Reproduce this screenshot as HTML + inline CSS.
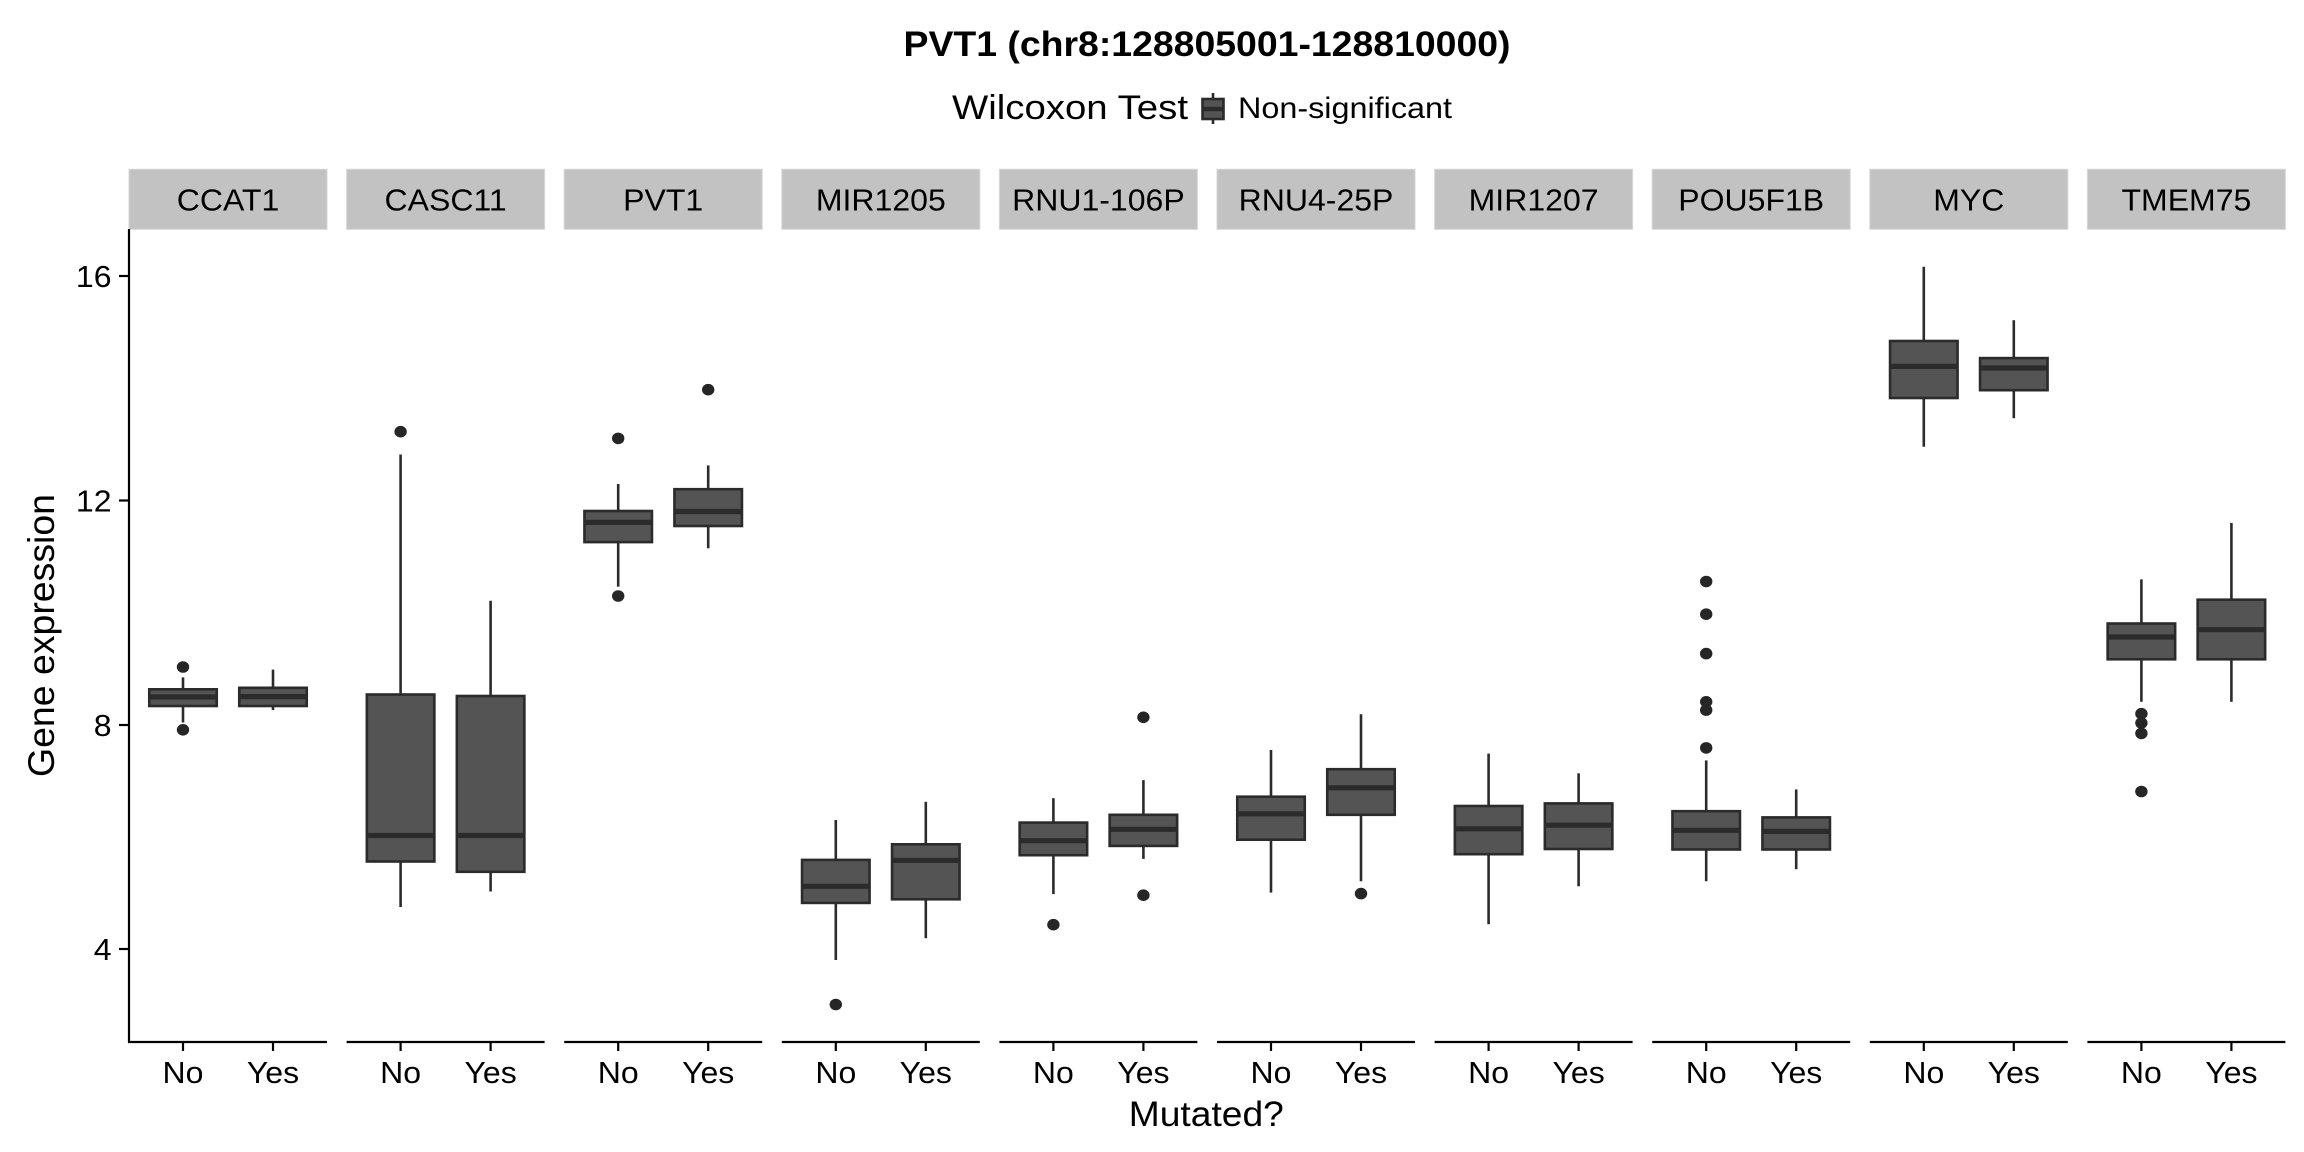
<!DOCTYPE html>
<html><head><meta charset="utf-8"><style>
html,body{margin:0;padding:0;background:#fff;}
svg{display:block;}
text{font-family:"Liberation Sans",Arial,sans-serif;fill:#000;}
.wh{stroke:#2b2b2b;stroke-width:2.6;}
.bx{fill:#545454;stroke:#2b2b2b;stroke-width:2.6;}
.md{stroke:#2b2b2b;stroke-width:5.2;}
.pt{fill:#262626;}
.ax{stroke:#000;stroke-width:2.2;}
.st{fill:#c2c2c2;stroke:#d6d6d6;stroke-width:1;}
.s{font-size:30.5px;}
</style></head><body>
<svg width="2304" height="1152" viewBox="0 0 2304 1152" xmlns="http://www.w3.org/2000/svg">
<rect width="2304" height="1152" fill="#fff"/>
<!-- title -->
<text x="1207" y="56" text-anchor="middle" font-size="35" font-weight="bold" textLength="607" lengthAdjust="spacingAndGlyphs">PVT1 (chr8:128805001-128810000)</text>
<!-- legend -->
<text x="952" y="119" font-size="34" textLength="236" lengthAdjust="spacingAndGlyphs">Wilcoxon Test</text>
<line x1="1213" y1="93" x2="1213" y2="124" class="wh"/>
<rect x="1202.5" y="99" width="21" height="20" class="bx"/>
<line x1="1202.5" y1="109" x2="1223.5" y2="109" class="md" style="stroke-width:4.5"/>
<text x="1238" y="118" font-size="30" textLength="214" lengthAdjust="spacingAndGlyphs">Non-significant</text>

<!-- strips -->
<g>
<rect x="129" y="169.3" width="198" height="60" class="st"/>
<rect x="346.6" y="169.3" width="198" height="60" class="st"/>
<rect x="564.2" y="169.3" width="198" height="60" class="st"/>
<rect x="781.8" y="169.3" width="198" height="60" class="st"/>
<rect x="999.4" y="169.3" width="198" height="60" class="st"/>
<rect x="1217" y="169.3" width="198" height="60" class="st"/>
<rect x="1434.6" y="169.3" width="198" height="60" class="st"/>
<rect x="1652.2" y="169.3" width="198" height="60" class="st"/>
<rect x="1869.8" y="169.3" width="198" height="60" class="st"/>
<rect x="2087.4" y="169.3" width="198" height="60" class="st"/>
</g>
<g class="s" text-anchor="middle">
<text transform="translate(228,210.5) scale(1.05,1)">CCAT1</text>
<text transform="translate(445.6,210.5) scale(1.05,1)">CASC11</text>
<text transform="translate(663.2,210.5) scale(1.05,1)">PVT1</text>
<text transform="translate(880.8,210.5) scale(1.05,1)">MIR1205</text>
<text transform="translate(1098.4,210.5) scale(1.05,1)">RNU1-106P</text>
<text transform="translate(1316,210.5) scale(1.05,1)">RNU4-25P</text>
<text transform="translate(1533.6,210.5) scale(1.05,1)">MIR1207</text>
<text transform="translate(1751.2,210.5) scale(1.05,1)">POU5F1B</text>
<text transform="translate(1968.8,210.5) scale(1.05,1)">MYC</text>
<text transform="translate(2186.4,210.5) scale(1.05,1)">TMEM75</text>
</g>

<!-- y axis -->
<line x1="129" y1="229" x2="129" y2="1043" class="ax"/>
<line x1="119" y1="276" x2="129" y2="276" class="ax"/>
<line x1="119" y1="500.5" x2="129" y2="500.5" class="ax"/>
<line x1="119" y1="725" x2="129" y2="725" class="ax"/>
<line x1="119" y1="949" x2="129" y2="949" class="ax"/>
<g class="s" text-anchor="end">
<text transform="translate(111.5,287) scale(1.05,1)">16</text>
<text transform="translate(111.5,511.5) scale(1.05,1)">12</text>
<text transform="translate(111.5,736) scale(1.05,1)">8</text>
<text transform="translate(111.5,960) scale(1.05,1)">4</text>
</g>
<text transform="translate(54,635.5) rotate(-90)" text-anchor="middle" font-size="37" textLength="283" lengthAdjust="spacingAndGlyphs">Gene expression</text>

<!-- x axes -->
<g>
<line x1="128" y1="1042" x2="327" y2="1042" class="ax"/>
<line x1="346.6" y1="1042" x2="544.6" y2="1042" class="ax"/>
<line x1="564.2" y1="1042" x2="762.2" y2="1042" class="ax"/>
<line x1="781.8" y1="1042" x2="979.8" y2="1042" class="ax"/>
<line x1="999.4" y1="1042" x2="1197.4" y2="1042" class="ax"/>
<line x1="1217" y1="1042" x2="1415" y2="1042" class="ax"/>
<line x1="1434.6" y1="1042" x2="1632.6" y2="1042" class="ax"/>
<line x1="1652.2" y1="1042" x2="1850.2" y2="1042" class="ax"/>
<line x1="1869.8" y1="1042" x2="2067.8" y2="1042" class="ax"/>
<line x1="2087.4" y1="1042" x2="2285.4" y2="1042" class="ax"/>
</g>
<g class="ax">
<line x1="183" y1="1042" x2="183" y2="1051"/><line x1="273" y1="1042" x2="273" y2="1051"/>
<line x1="400.6" y1="1042" x2="400.6" y2="1051"/><line x1="490.6" y1="1042" x2="490.6" y2="1051"/>
<line x1="618.2" y1="1042" x2="618.2" y2="1051"/><line x1="708.2" y1="1042" x2="708.2" y2="1051"/>
<line x1="835.8" y1="1042" x2="835.8" y2="1051"/><line x1="925.8" y1="1042" x2="925.8" y2="1051"/>
<line x1="1053.4" y1="1042" x2="1053.4" y2="1051"/><line x1="1143.4" y1="1042" x2="1143.4" y2="1051"/>
<line x1="1271" y1="1042" x2="1271" y2="1051"/><line x1="1361" y1="1042" x2="1361" y2="1051"/>
<line x1="1488.6" y1="1042" x2="1488.6" y2="1051"/><line x1="1578.6" y1="1042" x2="1578.6" y2="1051"/>
<line x1="1706.2" y1="1042" x2="1706.2" y2="1051"/><line x1="1796.2" y1="1042" x2="1796.2" y2="1051"/>
<line x1="1923.8" y1="1042" x2="1923.8" y2="1051"/><line x1="2013.8" y1="1042" x2="2013.8" y2="1051"/>
<line x1="2141.4" y1="1042" x2="2141.4" y2="1051"/><line x1="2231.4" y1="1042" x2="2231.4" y2="1051"/>
</g>
<g class="s" text-anchor="middle">
<text transform="translate(183,1083) scale(1.05,1)">No</text><text transform="translate(273,1083) scale(1.05,1)">Yes</text>
<text transform="translate(400.6,1083) scale(1.05,1)">No</text><text transform="translate(490.6,1083) scale(1.05,1)">Yes</text>
<text transform="translate(618.2,1083) scale(1.05,1)">No</text><text transform="translate(708.2,1083) scale(1.05,1)">Yes</text>
<text transform="translate(835.8,1083) scale(1.05,1)">No</text><text transform="translate(925.8,1083) scale(1.05,1)">Yes</text>
<text transform="translate(1053.4,1083) scale(1.05,1)">No</text><text transform="translate(1143.4,1083) scale(1.05,1)">Yes</text>
<text transform="translate(1271,1083) scale(1.05,1)">No</text><text transform="translate(1361,1083) scale(1.05,1)">Yes</text>
<text transform="translate(1488.6,1083) scale(1.05,1)">No</text><text transform="translate(1578.6,1083) scale(1.05,1)">Yes</text>
<text transform="translate(1706.2,1083) scale(1.05,1)">No</text><text transform="translate(1796.2,1083) scale(1.05,1)">Yes</text>
<text transform="translate(1923.8,1083) scale(1.05,1)">No</text><text transform="translate(2013.8,1083) scale(1.05,1)">Yes</text>
<text transform="translate(2141.4,1083) scale(1.05,1)">No</text><text transform="translate(2231.4,1083) scale(1.05,1)">Yes</text>
</g>
<text x="1206.3" y="1126" text-anchor="middle" font-size="35" textLength="155" lengthAdjust="spacingAndGlyphs">Mutated?</text>

<!-- whiskers -->
<g class="wh">
<line x1="183" y1="677.4" x2="183" y2="689.3"/><line x1="183" y1="706" x2="183" y2="722.5"/>
<line x1="273" y1="669.6" x2="273" y2="687.8"/><line x1="273" y1="706" x2="273" y2="710"/>
<line x1="400.6" y1="454.5" x2="400.6" y2="694.5"/><line x1="400.6" y1="861.5" x2="400.6" y2="907"/>
<line x1="490.6" y1="600.7" x2="490.6" y2="696"/><line x1="490.6" y1="871.8" x2="490.6" y2="891.5"/>
<line x1="618.2" y1="484" x2="618.2" y2="511"/><line x1="618.2" y1="542.1" x2="618.2" y2="586.7"/>
<line x1="708.2" y1="465.4" x2="708.2" y2="489.2"/><line x1="708.2" y1="526" x2="708.2" y2="548.3"/>
<line x1="835.8" y1="820" x2="835.8" y2="859.9"/><line x1="835.8" y1="902.9" x2="835.8" y2="960"/>
<line x1="925.8" y1="801.8" x2="925.8" y2="844.3"/><line x1="925.8" y1="899.3" x2="925.8" y2="938.2"/>
<line x1="1053.4" y1="798.2" x2="1053.4" y2="822.6"/><line x1="1053.4" y1="855.2" x2="1053.4" y2="894.1"/>
<line x1="1143.4" y1="780.1" x2="1143.4" y2="814.8"/><line x1="1143.4" y1="845.9" x2="1143.4" y2="858.9"/>
<line x1="1271" y1="750" x2="1271" y2="796.7"/><line x1="1271" y1="839.7" x2="1271" y2="892.6"/>
<line x1="1361" y1="714.2" x2="1361" y2="769.2"/><line x1="1361" y1="814.8" x2="1361" y2="881.2"/>
<line x1="1488.6" y1="753.6" x2="1488.6" y2="806"/><line x1="1488.6" y1="854.2" x2="1488.6" y2="924.2"/>
<line x1="1578.6" y1="773.3" x2="1578.6" y2="803.4"/><line x1="1578.6" y1="849" x2="1578.6" y2="886.3"/>
<line x1="1706.2" y1="760.4" x2="1706.2" y2="811.2"/><line x1="1706.2" y1="849.5" x2="1706.2" y2="881.2"/>
<line x1="1796.2" y1="789.4" x2="1796.2" y2="817.4"/><line x1="1796.2" y1="849.5" x2="1796.2" y2="869.2"/>
<line x1="1923.8" y1="266.8" x2="1923.8" y2="341"/><line x1="1923.8" y1="398" x2="1923.8" y2="446.7"/>
<line x1="2013.8" y1="320.2" x2="2013.8" y2="358.1"/><line x1="2013.8" y1="390.2" x2="2013.8" y2="418.2"/>
<line x1="2141.4" y1="579.4" x2="2141.4" y2="623.5"/><line x1="2141.4" y1="659.3" x2="2141.4" y2="701.8"/>
<line x1="2231.4" y1="522.9" x2="2231.4" y2="599.7"/><line x1="2231.4" y1="659.3" x2="2231.4" y2="701.8"/>
</g>

<!-- boxes -->
<g class="bx">
<rect x="149.25" y="689.3" width="67.5" height="16.7"/>
<rect x="239.25" y="687.8" width="67.5" height="18.2"/>
<rect x="366.85" y="694.5" width="67.5" height="167"/>
<rect x="456.85" y="696" width="67.5" height="175.8"/>
<rect x="584.45" y="511" width="67.5" height="31.1"/>
<rect x="674.45" y="489.2" width="67.5" height="36.8"/>
<rect x="802.05" y="859.9" width="67.5" height="43"/>
<rect x="892.05" y="844.3" width="67.5" height="55"/>
<rect x="1019.65" y="822.6" width="67.5" height="32.6"/>
<rect x="1109.65" y="814.8" width="67.5" height="31.1"/>
<rect x="1237.25" y="796.7" width="67.5" height="43"/>
<rect x="1327.25" y="769.2" width="67.5" height="45.6"/>
<rect x="1454.85" y="806" width="67.5" height="48.2"/>
<rect x="1544.85" y="803.4" width="67.5" height="45.6"/>
<rect x="1672.45" y="811.2" width="67.5" height="38.3"/>
<rect x="1762.45" y="817.4" width="67.5" height="32.1"/>
<rect x="1890.05" y="341" width="67.5" height="57"/>
<rect x="1980.05" y="358.1" width="67.5" height="32.1"/>
<rect x="2107.65" y="623.5" width="67.5" height="35.8"/>
<rect x="2197.65" y="599.7" width="67.5" height="59.6"/>
</g>

<!-- medians -->
<g class="md">
<line x1="149.25" y1="697" x2="216.75" y2="697"/>
<line x1="239.25" y1="696.6" x2="306.75" y2="696.6"/>
<line x1="366.85" y1="835.5" x2="434.35" y2="835.5"/>
<line x1="456.85" y1="835.5" x2="524.35" y2="835.5"/>
<line x1="584.45" y1="522.4" x2="651.95" y2="522.4"/>
<line x1="674.45" y1="511.5" x2="741.95" y2="511.5"/>
<line x1="802.05" y1="886.3" x2="869.55" y2="886.3"/>
<line x1="892.05" y1="860.4" x2="959.55" y2="860.4"/>
<line x1="1019.65" y1="840.7" x2="1087.15" y2="840.7"/>
<line x1="1109.65" y1="829.3" x2="1177.15" y2="829.3"/>
<line x1="1237.25" y1="813.8" x2="1304.75" y2="813.8"/>
<line x1="1327.25" y1="787.8" x2="1394.75" y2="787.8"/>
<line x1="1454.85" y1="828.8" x2="1522.35" y2="828.8"/>
<line x1="1544.85" y1="825.2" x2="1612.35" y2="825.2"/>
<line x1="1672.45" y1="830.3" x2="1739.95" y2="830.3"/>
<line x1="1762.45" y1="831.4" x2="1829.95" y2="831.4"/>
<line x1="1890.05" y1="366.4" x2="1957.55" y2="366.4"/>
<line x1="1980.05" y1="368" x2="2047.55" y2="368"/>
<line x1="2107.65" y1="637" x2="2175.15" y2="637"/>
<line x1="2197.65" y1="629.7" x2="2265.15" y2="629.7"/>
</g>

<!-- outliers -->
<g class="pt">
<ellipse cx="183" cy="667" rx="6.2" ry="5.8"/>
<ellipse cx="183" cy="729.8" rx="6.2" ry="5.8"/>
<ellipse cx="400.6" cy="431.7" rx="6.2" ry="5.8"/>
<ellipse cx="618.2" cy="438.4" rx="6.2" ry="5.8"/>
<ellipse cx="618.2" cy="596" rx="6.2" ry="5.8"/>
<ellipse cx="708.2" cy="389.7" rx="6.2" ry="5.8"/>
<ellipse cx="835.8" cy="1004.5" rx="6.2" ry="5.8"/>
<ellipse cx="1053.4" cy="924.7" rx="6.2" ry="5.8"/>
<ellipse cx="1143.4" cy="717.3" rx="6.2" ry="5.8"/>
<ellipse cx="1143.4" cy="895.2" rx="6.2" ry="5.8"/>
<ellipse cx="1361" cy="893.6" rx="6.2" ry="5.8"/>
<ellipse cx="1706.2" cy="581.5" rx="6.2" ry="5.8"/>
<ellipse cx="1706.2" cy="614.2" rx="6.2" ry="5.8"/>
<ellipse cx="1706.2" cy="653.6" rx="6.2" ry="5.8"/>
<ellipse cx="1706.2" cy="701.8" rx="6.2" ry="5.8"/>
<ellipse cx="1706.2" cy="710.1" rx="6.2" ry="5.8"/>
<ellipse cx="1706.2" cy="747.9" rx="6.2" ry="5.8"/>
<ellipse cx="2141.4" cy="713.7" rx="6.2" ry="5.8"/>
<ellipse cx="2141.4" cy="723" rx="6.2" ry="5.8"/>
<ellipse cx="2141.4" cy="733.4" rx="6.2" ry="5.8"/>
<ellipse cx="2141.4" cy="791.5" rx="6.2" ry="5.8"/>
</g>
</svg>
</body></html>
